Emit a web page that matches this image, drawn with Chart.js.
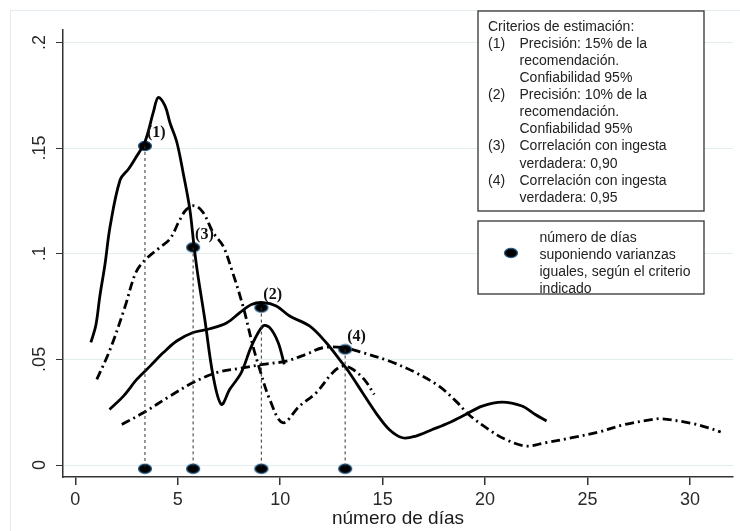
<!DOCTYPE html>
<html>
<head>
<meta charset="utf-8">
<script src="https://cdn.jsdelivr.net/npm/chart.js@4.4.1/dist/chart.umd.min.js"></script>
<style>
  body { margin: 0; background: #fff; }
  canvas { display: block; }
</style>
</head>
<body>
<canvas id="chart" width="740" height="531"></canvas>
<script>
// --- Data ---
const solidNarrowX = [0.76, 1.0, 1.2, 1.45, 1.7, 2.19, 2.59, 2.92, 3.4, 3.81, 4.05, 4.38, 4.62, 4.95, 5.27, 5.59, 5.79, 5.95, 6.32, 6.73, 7.13, 7.54, 8.1, 8.6, 9.16, 9.49, 9.9, 10.2];
const solidNarrowY = [0.058, 0.066, 0.08, 0.095, 0.113, 0.135, 0.14, 0.145, 0.153, 0.167, 0.174, 0.170, 0.162, 0.153, 0.138, 0.121, 0.104, 0.092, 0.069, 0.042, 0.0287, 0.0358, 0.0437, 0.0563, 0.0658, 0.065, 0.058, 0.0476];

const dashNarrowX = [1.05, 1.7, 2.43, 2.95, 3.4, 4.13, 4.62, 5.1, 5.43, 5.84, 6.24, 6.73, 7.21, 7.65, 8.19, 8.67, 9.0, 9.49, 10.13, 10.94, 11.76, 12.56, 13.05, 13.54, 14.1, 14.59];
const dashNarrowY = [0.0405, 0.0547, 0.075, 0.091, 0.097, 0.103, 0.107, 0.116, 0.121, 0.1227, 0.1195, 0.110, 0.1037, 0.092, 0.075, 0.0563, 0.0453, 0.031, 0.020, 0.0279, 0.0342, 0.0437, 0.0468, 0.0453, 0.0405, 0.0334];

const solidWideX = [1.67, 2.35, 3.0, 3.65, 4.3, 4.95, 5.75, 6.57, 7.38, 8.03, 8.6, 9.16, 9.81, 10.46, 11.43, 12.24, 12.89, 13.38, 14.02, 14.67, 15.32, 15.97, 16.62, 17.43, 18.24, 19.05, 19.86, 20.83, 21.8, 22.45, 23.0];
const solidWideY = [0.0263, 0.0326, 0.0405, 0.0468, 0.0532, 0.0587, 0.0627, 0.0645, 0.0672, 0.0721, 0.076, 0.0769, 0.0753, 0.0705, 0.0658, 0.058, 0.05, 0.0437, 0.0342, 0.0247, 0.0168, 0.0129, 0.0137, 0.0168, 0.020, 0.0239, 0.0279, 0.0298, 0.0279, 0.0239, 0.0208];

const dashWideX = [2.27, 3.32, 4.62, 5.75, 6.89, 8.19, 9.16, 10.3, 11.27, 12.08, 13.13, 14.02, 15.32, 16.62, 17.75, 18.6, 19.2, 20.18, 21.0, 22.0, 22.92, 24.24, 25.54, 26.83, 27.97, 28.6, 30.07, 30.9, 31.5];
const dashWideY = [0.0192, 0.0247, 0.0326, 0.039, 0.0437, 0.046, 0.0476, 0.0492, 0.0524, 0.0555, 0.0555, 0.0532, 0.0492, 0.0437, 0.0373, 0.030, 0.0239, 0.0168, 0.0121, 0.009, 0.0105, 0.0129, 0.0156, 0.0192, 0.0212, 0.0219, 0.0197, 0.0176, 0.0156];

// estimated number of days per criterion (1)..(4)
const criterionLabels = ['(1)', '(2)', '(3)', '(4)'];
const criterionDays = [3.4, 9.08, 5.75, 13.17];
const criterionDensity = [0.151, 0.0745, 0.103, 0.0547];
const baseDensity = -0.0018;

const xTicks = [0, 5, 10, 15, 20, 25, 30];
const yTicks = [0, 0.05, 0.1, 0.15, 0.2];
const yTickLabels = ['0', '.05', '.1', '.15', '.2'];

const legendLines = [
    ['', 'Criterios de estimación:'],
    ['(1)', 'Precisión: 15% de la'],
    ['', 'recomendación.'],
    ['', 'Confiabilidad 95%'],
    ['(2)', 'Precisión: 10% de la'],
    ['', 'recomendación.'],
    ['', 'Confiabilidad 95%'],
    ['(3)', 'Correlación con ingesta'],
    ['', 'verdadera: 0,90'],
    ['(4)', 'Correlación con ingesta'],
    ['', 'verdadera: 0,95']
];
const markerLegendLines = ['número de días', 'suponiendo varianzas', 'iguales, según el criterio', 'indicado'];

// --- Helpers ---
const toPoints = (xs, ys) => xs.map((x, i) => ({ x: x, y: ys[i] }));

function makeMarker() {
    const c = document.createElement('canvas');
    c.width = 16; c.height = 12;
    const g = c.getContext('2d');
    g.beginPath();
    g.ellipse(8, 6, 6.5, 4.6, 0, 0, Math.PI * 2);
    g.fillStyle = '#000';
    g.fill();
    g.lineWidth = 1.3;
    g.strokeStyle = '#2a5f8c';
    g.stroke();
    return c;
}
const marker = makeMarker();

const curveStyle = (dashed) => ({
    borderColor: '#000',
    borderWidth: 2.8,
    borderDash: dashed ? [9, 4, 2, 4] : [],
    pointRadius: 0,
    tension: 0.35,
    fill: false
});

const dropLines = criterionDays.map((d, i) => ({
    data: [{ x: d, y: criterionDensity[i] }, { x: d, y: baseDensity }],
    borderColor: '#333',
    borderWidth: 1,
    borderDash: [3, 3],
    pointRadius: 0
}));

// --- Plugins ---
const frame = {
    id: 'frame',
    beforeDraw(chart) {
        const ctx = chart.ctx;
        ctx.save();
        ctx.fillStyle = '#fff';
        ctx.fillRect(0, 0, chart.width, chart.height);
        ctx.strokeStyle = '#e2ebef';
        ctx.lineWidth = 1;
        ctx.beginPath();
        ctx.moveTo(10.5, chart.height);
        ctx.lineTo(10.5, 10.5);
        ctx.lineTo(chart.width, 10.5);
        ctx.stroke();
        ctx.restore();
    }
};

const yLabels = {
    id: 'yLabels',
    afterDraw(chart) {
        const ctx = chart.ctx;
        const y = chart.scales.y;
        ctx.save();
        ctx.font = '18px "Liberation Sans", Arial, sans-serif';
        ctx.fillStyle = '#2a2a2a';
        ctx.textAlign = 'center';
        ctx.textBaseline = 'middle';
        yTicks.forEach((v, i) => {
            ctx.save();
            ctx.translate(40, y.getPixelForValue(v));
            ctx.rotate(-Math.PI / 2);
            ctx.fillText(yTickLabels[i], 0, 0);
            ctx.restore();
        });
        ctx.restore();
    }
};

const pointLabels = {
    id: 'pointLabels',
    afterDatasetsDraw(chart) {
        const ctx = chart.ctx;
        const xs = chart.scales.x, ys = chart.scales.y;
        ctx.save();
        ctx.font = 'bold 16px "Liberation Serif", "Times New Roman", serif';
        ctx.fillStyle = '#111';
        ctx.textAlign = 'left';
        ctx.textBaseline = 'middle';
        criterionLabels.forEach((t, i) => {
            ctx.fillText(t, xs.getPixelForValue(criterionDays[i]) + 2, ys.getPixelForValue(criterionDensity[i]) - 13);
        });
        ctx.restore();
    }
};

const legendBoxes = {
    id: 'legendBoxes',
    afterDraw(chart) {
        const ctx = chart.ctx;
        ctx.save();
        ctx.fillStyle = '#fff';
        ctx.strokeStyle = '#333';
        ctx.lineWidth = 1.3;
        ctx.fillRect(478, 11, 226, 200);
        ctx.strokeRect(478, 11, 226, 200);
        ctx.fillRect(478, 221, 226, 73);

        ctx.font = '14px "Liberation Sans", Arial, sans-serif';
        ctx.fillStyle = '#222';
        ctx.textBaseline = 'alphabetic';
        legendLines.forEach((ln, i) => {
            const y = 30.7 + i * 17.1;
            if (i === 0) {
                ctx.fillText(ln[1], 488, y);
            } else {
                if (ln[0]) ctx.fillText(ln[0], 488, y);
                ctx.fillText(ln[1], 519.5, y);
            }
        });
        markerLegendLines.forEach((t, i) => {
            ctx.fillText(t, 539.5, 241.5 + i * 17);
        });
        ctx.strokeRect(478, 221, 226, 73);
        ctx.drawImage(marker, 511 - 8, 253 - 6);
        ctx.restore();
    }
};

// --- Chart ---
new Chart(document.getElementById('chart'), {
    type: 'line',
    data: {
        datasets: [
            ...dropLines,
            { data: toPoints(solidNarrowX, solidNarrowY), ...curveStyle(false) },
            { data: toPoints(dashNarrowX, dashNarrowY), ...curveStyle(true) },
            { data: toPoints(solidWideX, solidWideY), ...curveStyle(false) },
            { data: toPoints(dashWideX, dashWideY), ...curveStyle(true) },
            {
                data: toPoints(criterionDays, criterionDensity),
                showLine: false,
                pointStyle: marker,
                pointRadius: 6
            },
            {
                data: criterionDays.map(d => ({ x: d, y: baseDensity })),
                showLine: false,
                pointStyle: marker,
                pointRadius: 6
            }
        ]
    },
    options: {
        responsive: false,
        devicePixelRatio: 1,
        animation: false,
        layout: { padding: { left: 0, top: 30, right: 5, bottom: 0 } },
        plugins: {
            legend: { display: false },
            tooltip: { enabled: false }
        },
        scales: {
            x: {
                type: 'linear',
                min: -0.6,
                max: 32.1,
                afterBuildTicks: s => { s.ticks = xTicks.map(v => ({ value: v })); },
                afterFit: s => { s.height = 54; },
                grid: { drawOnChartArea: false, tickColor: '#333', tickLength: 8, lineWidth: 1.5 },
                border: { display: true, color: '#333', width: 1.5 },
                ticks: {
                    color: '#2a2a2a',
                    padding: 4,
                    maxRotation: 0,
                    font: { family: '"Liberation Sans", Arial, sans-serif', size: 18 }
                },
                title: {
                    display: true,
                    text: 'número de días',
                    color: '#1a1a1a',
                    padding: { top: 0, bottom: 1 },
                    font: { family: '"Liberation Sans", Arial, sans-serif', size: 19 }
                }
            },
            y: {
                type: 'linear',
                min: -0.00568,
                max: 0.2059,
                afterBuildTicks: s => { s.ticks = yTicks.map(v => ({ value: v })); },
                afterFit: s => { s.width = 63; },
                grid: { color: '#e3ecef', lineWidth: 1, tickColor: '#333', tickLength: 7 },
                border: { display: true, color: '#333', width: 1.5 },
                ticks: { display: false }
            }
        }
    },
    plugins: [frame, yLabels, pointLabels, legendBoxes]
});
</script>
</body>
</html>
